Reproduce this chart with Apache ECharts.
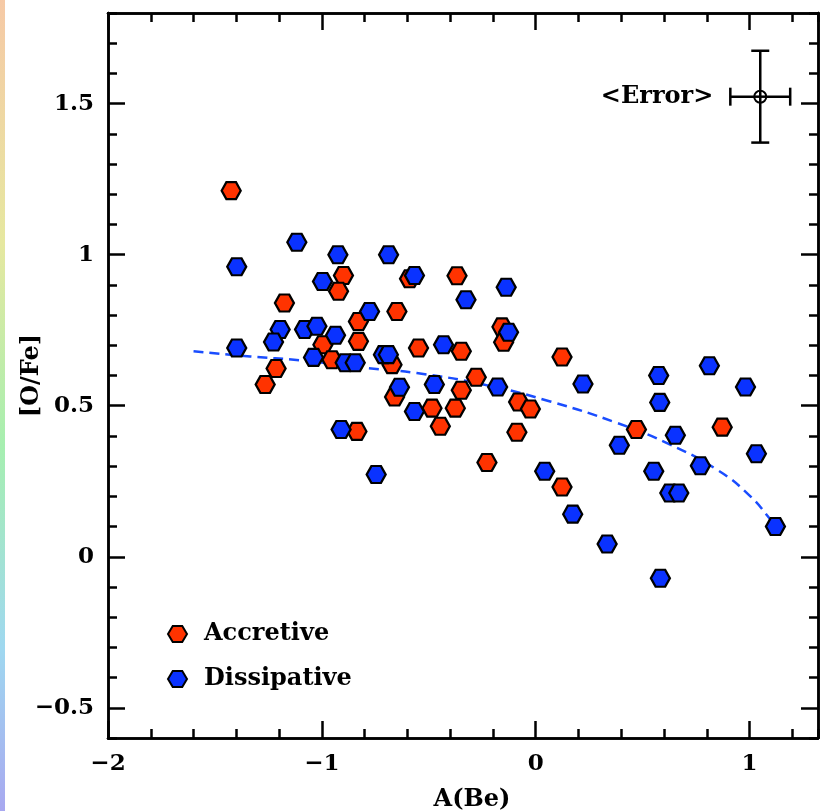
<!DOCTYPE html>
<html>
<head>
<meta charset="utf-8">
<script src="https://cdn.jsdelivr.net/npm/echarts@6/dist/echarts.min.js"></script>
<style>
html,body{margin:0;padding:0;background:#fff;}
#chart{width:829px;height:811px;}
</style>
</head>
<body>
<div id="chart"></div>
<script>
// ---- data ----
const accretiveX = [-1.424,-1.175,-1.265,-1.214,-0.899,-0.922,-0.590,-0.368,-0.829,-0.649,-0.829,-0.995,-0.548,-0.953,-0.672,-0.660,-0.485,-0.446,-0.376,-0.836,-0.158,-0.150,-0.348,0.123,-0.278,-0.348,-0.080,-0.025,-0.088,-0.228,0.123,0.471,0.872];
const accretiveY = [1.212,0.840,0.570,0.623,0.931,0.879,0.920,0.930,0.779,0.812,0.713,0.702,0.691,0.652,0.636,0.529,0.492,0.432,0.492,0.415,0.761,0.710,0.680,0.661,0.594,0.551,0.512,0.489,0.412,0.312,0.231,0.421,0.429];
const dissipativeX = [-1.117,-1.398,-0.925,-0.688,-0.567,-0.997,-0.326,-0.138,-0.777,-1.195,-1.226,-1.081,-1.023,-0.936,-1.398,-0.431,-1.039,-0.891,-0.844,-0.712,-0.689,-0.637,-0.474,-0.567,-0.910,-0.746,-0.127,-0.178,0.221,0.042,0.173,0.334,0.583,0.575,0.580,0.812,0.981,0.391,0.653,1.032,0.770,0.552,0.627,0.669,1.121];
const dissipativeY = [1.041,0.960,1.000,1.000,0.931,0.911,0.851,0.892,0.812,0.752,0.711,0.752,0.763,0.733,0.691,0.702,0.660,0.642,0.642,0.669,0.669,0.561,0.570,0.481,0.421,0.272,0.743,0.562,0.572,0.283,0.141,0.042,-0.071,0.600,0.511,0.632,0.562,0.369,0.402,0.341,0.301,0.283,0.211,0.211,0.100];
const curveX = [-1.60,-1.335,-1.10,-0.79,-0.556,-0.244,0.068,0.380,0.614,0.848,1.004,1.098,1.12];
const curveY = [0.680,0.663,0.650,0.625,0.608,0.570,0.514,0.443,0.376,0.288,0.200,0.123,0.105];
const errorPoint = [1.05, 1.523];
const errorHalf = [0.14, 0.152];
const xMajorTicks = [-2,-1,0,1];
const yMajorTicks = [-0.5,0,0.5,1,1.5];
const seriesNames = ['Accretive','Dissipative'];

const FONT = 'DejaVu Serif';
const hexagon = 'path://M0,5 L3,0 L9,0 L12,5 L9,10 L3,10 Z';
const fmt = v => String(v).replace('-', '\u2212');

const zip = (a,b) => a.map((v,i)=>[v,b[i]]);

function axisBase(extra){
  return Object.assign({
    type:'value', gridIndex:0,
    axisLine:{show:true, onZero:false, lineStyle:{color:'#000', width:2.5}},
    splitLine:{show:false},
    axisLabel:{show:false},
    axisTick:{show:true, inside:true, length:9, lineStyle:{color:'#000', width:2.5}}
  }, extra);
}
const xRange = {min:-2, max:1.32};
const yRange = {min:-0.6, max:1.8};
const labelStyle = {color:'#000', fontFamily:FONT, fontWeight:'bold', fontSize:23};
const textStyle = {color:'#000', fontFamily:FONT, fontWeight:'bold', fontSize:24};

const xAxes = [
  axisBase(Object.assign({position:'bottom', name:'A(Be)', nameLocation:'middle', nameGap:50,
    nameTextStyle:Object.assign({padding:[0,0,0,18]}, textStyle),
    axisTick:{show:true, inside:true, length:17, customValues:xMajorTicks, lineStyle:{color:'#000', width:2.5}},
    axisLabel:Object.assign({show:true, margin:15, customValues:xMajorTicks, formatter:fmt}, labelStyle)
  }, xRange)),
  axisBase(Object.assign({position:'bottom', interval:0.2}, xRange)),
  axisBase(Object.assign({position:'top',
    axisTick:{show:true, inside:true, length:17, customValues:xMajorTicks, lineStyle:{color:'#000', width:2.5}}
  }, xRange)),
  axisBase(Object.assign({position:'top', interval:0.2}, xRange))
];
const yAxes = [
  axisBase(Object.assign({position:'left', name:'[O/Fe]', nameLocation:'middle', nameGap:64, nameRotate:90,
    nameMoveOverlap:false,
    nameTextStyle:textStyle,
    axisTick:{show:true, inside:true, length:17, customValues:yMajorTicks, lineStyle:{color:'#000', width:2.5}},
    axisLabel:Object.assign({show:true, margin:14, customValues:yMajorTicks, formatter:fmt}, labelStyle)
  }, yRange)),
  axisBase(Object.assign({position:'left', interval:0.1}, yRange)),
  axisBase(Object.assign({position:'right',
    axisTick:{show:true, inside:true, length:17, customValues:yMajorTicks, lineStyle:{color:'#000', width:2.5}}
  }, yRange)),
  axisBase(Object.assign({position:'right', interval:0.1}, yRange))
];

const markerStyle = (c) => ({color:c, borderColor:'#000', borderWidth:2.2, opacity:1});

const option = {
  animation:false,
  backgroundColor:'#fff',
  grid:{left:108, right:11, top:13, bottom:73, containLabel:false, outerBoundsMode:'none'},
  xAxis:xAxes,
  yAxis:yAxes,
  legend:{
    orient:'vertical', left:162, top:617, itemWidth:19, itemHeight:17, itemGap:21,
    icon:hexagon, data:seriesNames,
    textStyle:Object.assign({padding:[0,0,0,12]}, textStyle)
  },
  graphic:[{
    type:'rect', left:0, top:0, shape:{width:5, height:811}, silent:true,
    style:{fill:{type:'linear', x:0, y:0, x2:0, y2:1, colorStops:[
      {offset:0, color:'#f6c9a6'},{offset:0.3, color:'#e6e8a0'},{offset:0.55, color:'#a6efb0'},
      {offset:0.8, color:'#9fd8f0'},{offset:1, color:'#a8a8f0'}]}}
  }],
  series:[
    {
      name:'fit', type:'line', data:zip(curveX, curveY), smooth:0.5, symbol:'none',
      lineStyle:{color:'#1a4dff', width:2.5, type:[10,6]}, z:1, silent:true
    },
    {
      name:seriesNames[0], type:'scatter', data:zip(accretiveX, accretiveY),
      symbol:hexagon, symbolSize:[19,17], itemStyle:markerStyle('#ff3300'), z:3
    },
    {
      name:seriesNames[1], type:'scatter', data:zip(dissipativeX, dissipativeY),
      symbol:hexagon, symbolSize:[19,17], itemStyle:markerStyle('#0a32ff'), z:4
    },
    {
      name:'error', type:'custom', data:[[errorPoint[0], errorPoint[1], errorHalf[0], errorHalf[1]]],
      z:5, silent:true,
      renderItem:function(params, api){
        const x = api.value(0), y = api.value(1), dx = api.value(2), dy = api.value(3);
        const c = api.coord([x,y]);
        const l = api.coord([x-dx,y]), r = api.coord([x+dx,y]);
        const t = api.coord([x,y+dy]), b = api.coord([x,y-dy]);
        const st = {stroke:'#000', lineWidth:2.5, fill:null};
        const cap = 9;
        return {type:'group', children:[
          {type:'line', shape:{x1:l[0],y1:l[1],x2:r[0],y2:r[1]}, style:st},
          {type:'line', shape:{x1:t[0],y1:t[1],x2:b[0],y2:b[1]}, style:st},
          {type:'line', shape:{x1:l[0],y1:l[1]-cap,x2:l[0],y2:l[1]+cap}, style:st},
          {type:'line', shape:{x1:r[0],y1:r[1]-cap,x2:r[0],y2:r[1]+cap}, style:st},
          {type:'line', shape:{x1:t[0]-cap,y1:t[1],x2:t[0]+cap,y2:t[1]}, style:st},
          {type:'line', shape:{x1:b[0]-cap,y1:b[1],x2:b[0]+cap,y2:b[1]}, style:st},
          {type:'circle', shape:{cx:c[0], cy:c[1], r:6}, style:{stroke:'#000', lineWidth:2, fill:'#fff'}},
          {type:'line', shape:{x1:c[0]-6,y1:c[1],x2:c[0]+6,y2:c[1]}, style:st},
          {type:'line', shape:{x1:c[0],y1:c[1]-6,x2:c[0],y2:c[1]+6}, style:st},
          {type:'text', style:{text:'<Error>', x:l[0]-17, y:c[1], align:'right', verticalAlign:'middle',
            font:'bold 24px "' + FONT + '"', fill:'#000'}}
        ]};
      }
    }
  ]
};
const chart = echarts.init(document.getElementById('chart'), null, {renderer:'canvas'});
chart.setOption(option);
</script>
</body>
</html>
